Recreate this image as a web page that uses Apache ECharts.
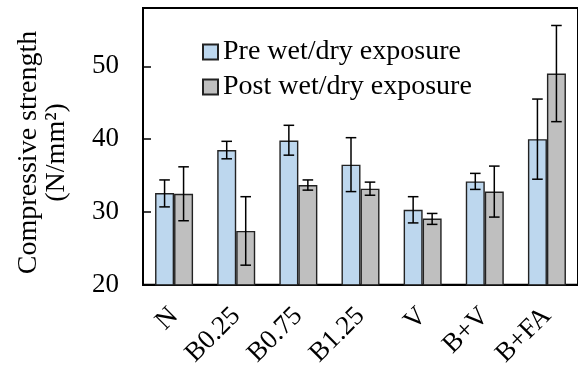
<!DOCTYPE html>
<html>
<head>
<meta charset="utf-8">
<script src="https://cdn.jsdelivr.net/npm/echarts@6/dist/echarts.min.js"></script>
<style>html,body{margin:0;padding:0;background:#fff}#c{width:578px;height:370px}</style>
</head>
<body>
<div id="c"></div>
<script>
var categories = ['N', 'B0.25', 'B0.75', 'B1.25', 'V', 'B+V', 'B+FA'];
var preValues = [32.6, 38.5, 39.8, 36.5, 30.3, 34.2, 40.0];
var preLow = [30.7, 37.3, 37.8, 32.8, 28.5, 33.1, 34.5];
var preHigh = [34.4, 39.7, 41.9, 40.2, 32.1, 35.3, 45.5];
var postValues = [32.5, 27.4, 33.7, 33.2, 29.1, 32.8, 49.0];
var postLow = [28.8, 22.7, 33.0, 32.3, 28.3, 29.3, 42.4];
var postHigh = [36.2, 32.1, 34.4, 34.1, 29.8, 36.3, 55.6];
var yTicks = [20, 30, 40, 50];

var FONT = '"Liberation Serif", "Times New Roman", serif';
var BAR_W = 19;

function errData(low, high) {
  return categories.map(function (c, i) { return [i, low[i], high[i]]; });
}
function errRender(offset) {
  return function (params, api) {
    var i = api.value(0);
    var lo = api.coord([i, api.value(1)]);
    var hi = api.coord([i, api.value(2)]);
    var x = lo[0] + offset;
    var cap = 5.3;
    var st = { stroke: '#000', lineWidth: 1.5 };
    return {
      type: 'group',
      children: [
        { type: 'line', shape: { x1: x, y1: lo[1], x2: x, y2: hi[1] }, style: st },
        { type: 'line', shape: { x1: x - cap, y1: lo[1], x2: x + cap, y2: lo[1] }, style: st },
        { type: 'line', shape: { x1: x - cap, y1: hi[1], x2: x + cap, y2: hi[1] }, style: st }
      ]
    };
  };
}

var chart = echarts.init(document.getElementById('c'));
chart.setOption({
  animation: false,
  textStyle: { fontFamily: FONT, color: '#000' },
  grid: { left: 143, top: 8, width: 437, bottom: 85, show: true, borderColor: '#000', borderWidth: 2, backgroundColor: 'transparent' },
  legend: {
    orient: 'vertical', left: 202, top: 37, padding: 0, itemWidth: 15, itemHeight: 15, itemGap: 5, itemTextGap: 2,
    icon: 'rect',
    textStyle: { fontFamily: FONT, fontSize: 28, color: '#000', lineHeight: 30 },
    data: ['Pre wet/dry exposure', 'Post wet/dry exposure']
  },
  xAxis: {
    type: 'category', data: categories,
    axisLine: { lineStyle: { color: '#000', width: 2 } },
    axisTick: { inside: true, length: 7, lineStyle: { color: '#000', width: 1.5 } },
    axisLabel: { rotate: 45, fontSize: 27, fontFamily: FONT, color: '#000', margin: 27 }
  },
  yAxis: {
    type: 'value', min: 20, max: 58, interval: 10,
    name: 'Compressive strength\n(N/mm²)', nameLocation: 'middle', nameGap: 72, nameRotate: 90,
    nameTextStyle: { fontFamily: FONT, fontSize: 28, color: '#000', lineHeight: 28, padding: [0, 12, 0, 0] },
    axisLine: { show: true, lineStyle: { color: '#000', width: 2 } },
    axisTick: { show: true, inside: true, length: 8, lineStyle: { color: '#000', width: 1.5 } },
    splitLine: { show: false },
    axisLabel: {
      fontSize: 27, fontFamily: FONT, color: '#000', margin: 24,
      formatter: function (v) { return yTicks.indexOf(v) >= 0 ? String(v) : ''; }
    }
  },
  series: [
    { name: 'Pre wet/dry exposure', type: 'bar', data: preValues, barWidth: BAR_W, barGap: '0%',
      itemStyle: { color: '#BDD7EE', borderColor: '#222', borderWidth: 1.4 } },
    { name: 'Post wet/dry exposure', type: 'bar', data: postValues, barWidth: BAR_W, barGap: '0%',
      itemStyle: { color: '#BFBFBF', borderColor: '#222', borderWidth: 1.4 } },
    { type: 'custom', data: errData(preLow, preHigh), renderItem: errRender(-BAR_W / 2), encode: { x: 0, y: [1, 2] }, z: 5 },
    { type: 'custom', data: errData(postLow, postHigh), renderItem: errRender(BAR_W / 2), encode: { x: 0, y: [1, 2] }, z: 5 }
  ]
});
</script>
</body>
</html>
